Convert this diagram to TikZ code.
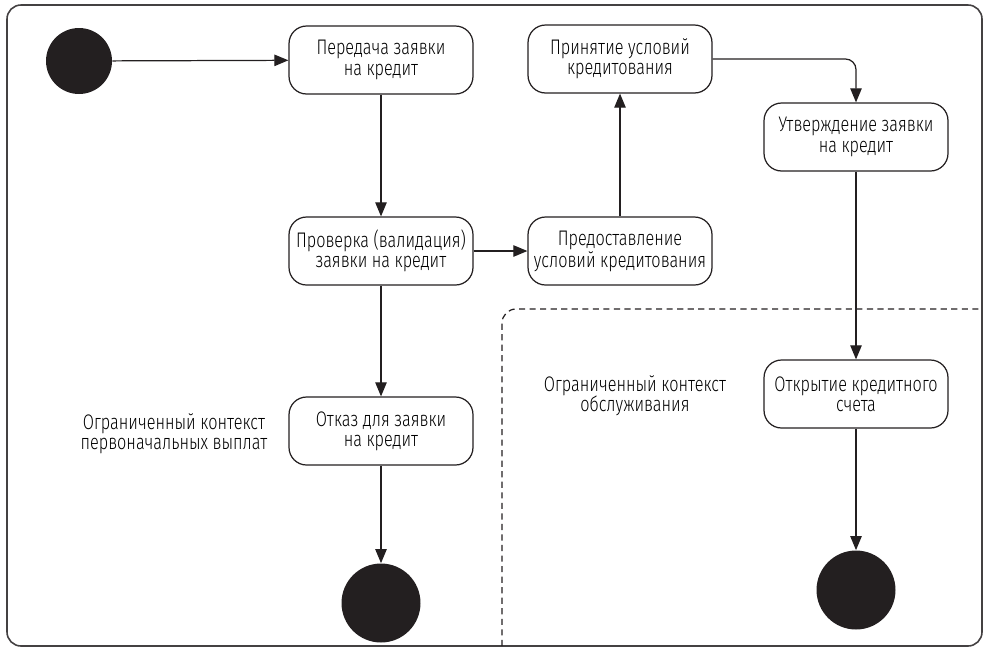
\documentclass[tikz,border=0pt]{standalone}
\usepackage{fontspec}
\setmainfont{Fira Sans Light}[FakeStretch=0.77]
\usetikzlibrary{arrows.meta}
\definecolor{ink}{HTML}{231F20}
\tikzset{
  stage/.style={draw=ink, line width=0.7pt, rounded corners=10pt, minimum width=3.68cm,
    minimum height=1.36cm, align=center, inner sep=2pt, font=\fontsize{12}{11.5}\selectfont},
  ctx/.style={align=center, inner sep=1pt, font=\fontsize{12}{11.5}\selectfont},
  blob/.style={circle, fill=ink, inner sep=0pt, minimum size=#1},
  flow/.style={draw=ink, line width=0.7pt, -{Triangle[length=8pt,width=6.5pt]}}
}
\begin{document}
\begin{tikzpicture}[x=0.02cm, y=-0.02cm]
    \useasboundingbox (0,0) rectangle (989,650);
    % frame and the dashed context boundary
    \draw[ink!85, line width=0.9pt, rounded corners=8pt] (7,5) rectangle (982,646);
    \draw[ink, line width=0.7pt, dash pattern=on 3.5pt off 2.5pt, rounded corners=8pt] (502,646) -- (502,309) -- (982,309);
    % states
    \node[blob=1.32cm] (start) at (79,61) {};
    \node[stage] (submit) at (381,60) {Передача заявки\\на кредит};
    \node[stage] (accept) at (620,59) {Принятие условий\\кредитования};
    \node[stage] (approve) at (856,137) {Утверждение заявки\\на кредит};
    \node[stage] (validate) at (381,251) {Проверка (валидация)\\заявки на кредит};
    \node[stage] (offer) at (620,251) {Предоставление\\условий кредитования};
    \node[stage] (reject) at (381,431) {Отказ для заявки\\на кредит};
    \node[stage] (open) at (856,394) {Открытие кредитного\\счета};
    \node[blob=1.58cm] (endA) at (381,603) {};
    \node[blob=1.58cm] (endB) at (856,590) {};
    % context labels
    \node[ctx] (ctxA) at (174,434) {Ограниченный контекст\\первоначальных выплат};
    \node[ctx] (ctxB) at (635,396) {Ограниченный контекст\\обслуживания};
    % transitions
    \draw[flow] (start) -- (submit);
    \draw[flow] (submit) -- (validate);
    \draw[flow] (validate) -- (offer);
    \draw[flow] (offer) -- (accept);
    \draw[flow, rounded corners=6pt] (accept.east) -| (approve.north);
    \draw[flow] (approve) -- (open);
    \draw[flow] (open) -- (endB);
    \draw[flow] (validate) -- (reject);
    \draw[flow] (reject) -- (endA);
\end{tikzpicture}
\end{document}
